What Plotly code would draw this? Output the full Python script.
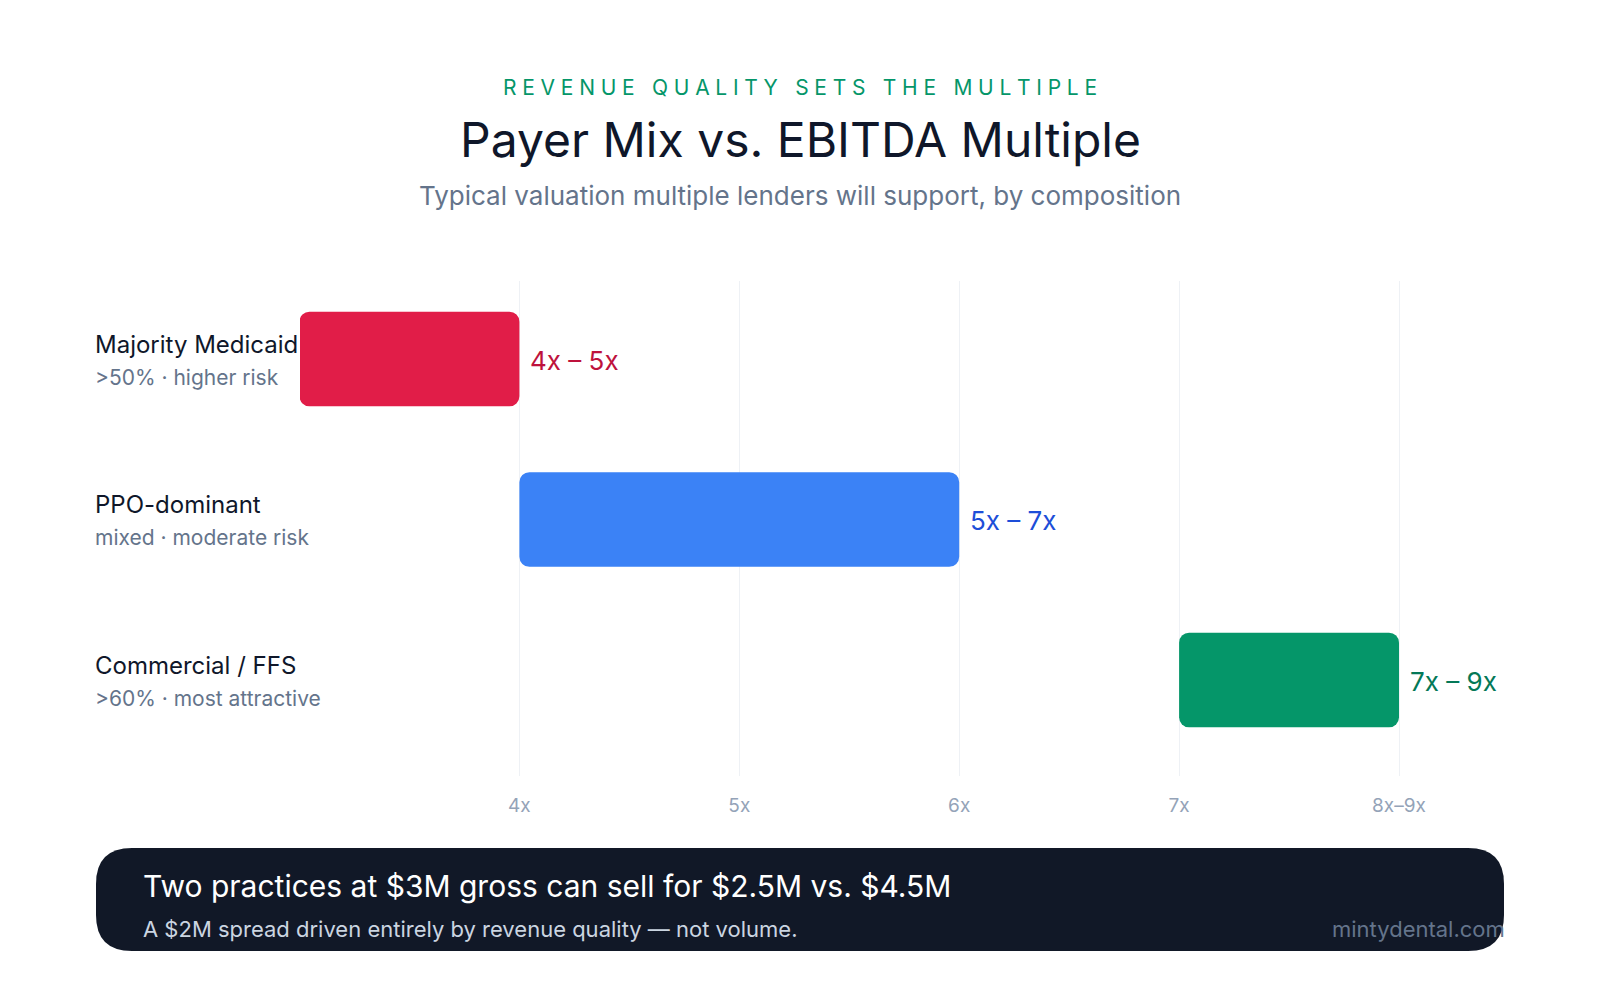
import plotly.graph_objects as go

# ---- data ----
categories = ["Majority Medicaid", "PPO-dominant", "Commercial / FFS"]
sublabels = [">50% · higher risk", "mixed · moderate risk", ">60% · most attractive"]
bar_start = [3, 4, 7]
bar_end = [4, 6, 8]
range_labels = ["4x – 5x", "5x – 7x", "7x – 9x"]
bar_colors = ["#e11d48", "#3b82f6", "#059669"]
label_colors = ["#be123c", "#1d4ed8", "#047857"]
tick_vals = [4, 5, 6, 7, 8]
tick_text = ["4x", "5x", "6x", "7x", "8x–9x"]

W, H = 1600, 1000
FONT = "Inter, Noto Sans, sans-serif"

ypos = list(range(len(categories)))
lengths = [e - s for s, e in zip(bar_start, bar_end)]

fig = go.Figure()
fig.add_trace(go.Bar(orientation="h", y=ypos, base=bar_start, x=lengths, width=0.59,
                     marker=dict(color=bar_colors, cornerradius=10, line=dict(width=0)),
                     hoverinfo="skip", showlegend=False))

annotations = []
for i, (cat, sub, end, lab, lc) in enumerate(zip(categories, sublabels, bar_end, range_labels, label_colors)):
    annotations.append(dict(x=93 / W, xref="paper", y=i, yref="y", yshift=15, text=cat,
                            showarrow=False, xanchor="left", yanchor="middle",
                            font=dict(family=FONT, size=24, color="#0f172a")))
    annotations.append(dict(x=93 / W, xref="paper", y=i, yref="y", yshift=-18, text=sub,
                            showarrow=False, xanchor="left", yanchor="middle",
                            font=dict(family=FONT, size=21, color="#64748b")))
    annotations.append(dict(x=end, xref="x", y=i, yref="y", xshift=9, yshift=-1, text=lab,
                            showarrow=False, xanchor="left", yanchor="middle",
                            font=dict(family=FONT, size=26, color=lc)))

# header
kicker = "REVENUE QUALITY SETS THE MULTIPLE"
kicker_spaced = "\u2009\u200a".join(list(kicker))
annotations += [
    dict(x=0.5, xref="paper", y=1 - 88 / H, yref="paper", text=kicker_spaced, showarrow=False,
         xanchor="center", yanchor="middle", font=dict(family=FONT, size=21, color="#059669")),
    dict(x=0.5, xref="paper", y=1 - 139 / H, yref="paper", text="Payer Mix vs. EBITDA Multiple",
         showarrow=False, xanchor="center", yanchor="middle",
         font=dict(family=FONT, size=48, color="#0f172a", weight=400)),
    dict(x=0.5, xref="paper", y=1 - 195 / H, yref="paper",
         text="Typical valuation multiple lenders will support, by composition",
         showarrow=False, xanchor="center", yanchor="middle",
         font=dict(family=FONT, size=26, color="#64748b")),
]

# footer
annotations += [
    dict(x=141 / W, xref="paper", y=1 - 886 / H, yref="paper",
         text="Two practices at $3M gross can sell for $2.5M vs. $4.5M",
         showarrow=False, xanchor="left", yanchor="middle",
         font=dict(family=FONT, size=30, color="#ffffff", weight=400)),
    dict(x=141 / W, xref="paper", y=1 - 929 / H, yref="paper",
         text="A $2M spread driven entirely by revenue quality — not volume.",
         showarrow=False, xanchor="left", yanchor="middle",
         font=dict(family=FONT, size=22, color="#cbd5e1")),
    dict(x=1507 / W, xref="paper", y=1 - 929 / H, yref="paper", text="mintydental.com",
         showarrow=False, xanchor="right", yanchor="middle",
         font=dict(family=FONT, size=22, color="#64748b")),
]

# rounded footer box (paper coords)
x0, x1, y0, y1 = 96, 1504, 848, 951
r = 36
def px(x): return x / W
def py(y): return 1 - y / H
path = (f"M {px(x0 + r)},{py(y0)} L {px(x1 - r)},{py(y0)} "
        f"Q {px(x1)},{py(y0)} {px(x1)},{py(y0 + r)} L {px(x1)},{py(y1 - r)} "
        f"Q {px(x1)},{py(y1)} {px(x1 - r)},{py(y1)} L {px(x0 + r)},{py(y1)} "
        f"Q {px(x0)},{py(y1)} {px(x0)},{py(y1 - r)} L {px(x0)},{py(y0 + r)} "
        f"Q {px(x0)},{py(y0)} {px(x0 + r)},{py(y0)} Z")

scale = (1399 - 519.4) / 4
x_left_px, x_right_px = 300, 1500
xr0 = 4 - (519.4 - x_left_px) / scale
xr1 = 4 + (x_right_px - 519.4) / scale

fig.update_layout(
    width=W, height=H, margin=dict(l=0, r=0, t=0, b=0),
    paper_bgcolor="#ffffff", plot_bgcolor="#ffffff",
    barmode="overlay", showlegend=False,
    font=dict(family=FONT),
    xaxis=dict(domain=[x_left_px / W, x_right_px / W], range=[xr0, xr1],
               tickvals=tick_vals, ticktext=tick_text, showgrid=True, gridcolor="#eef1f5",
               gridwidth=1, zeroline=False, showline=False, ticks="",
               ticklabelstandoff=16,
               tickfont=dict(family=FONT, size=19, color="#94a3b8"), fixedrange=True),
    yaxis=dict(domain=[1 - 776 / H, 1 - 281 / H], range=[2.598, -0.486],
               showticklabels=False, showgrid=False, zeroline=False, showline=False,
               fixedrange=True),
    annotations=annotations,
    shapes=[dict(type="path", path=path, xref="paper", yref="paper",
                 fillcolor="#111827", line=dict(width=0), layer="below")],
)

fig.write_html("out.html", config={"displayModeBar": False})
